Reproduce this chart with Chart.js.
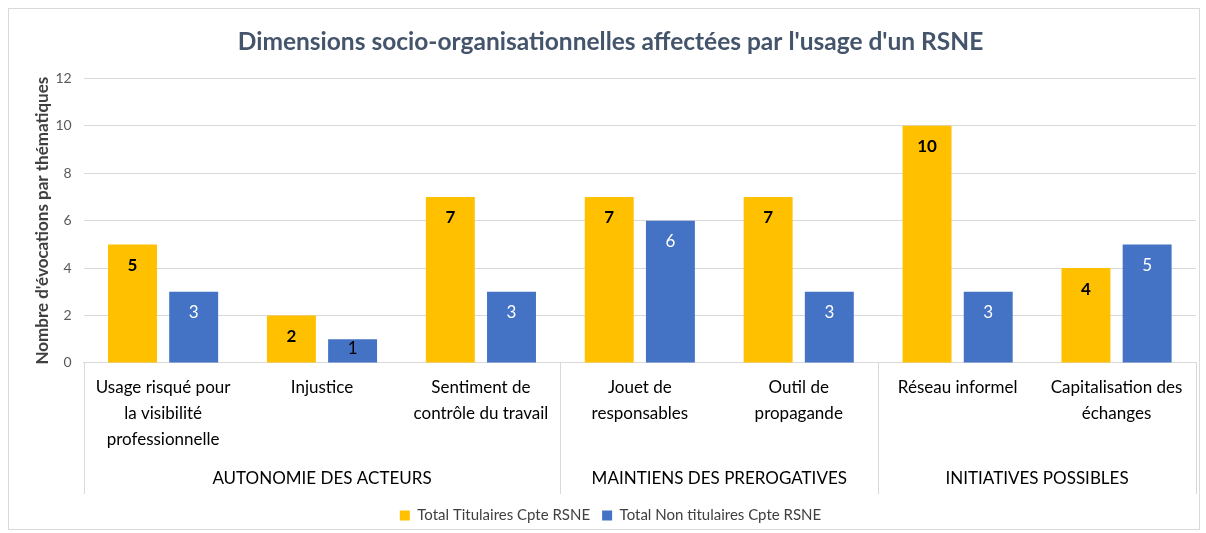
<!DOCTYPE html>
<html>
<head>
<meta charset="utf-8">
<script src="https://cdn.jsdelivr.net/npm/chart.js@4"></script>
<style>
  body { margin: 0; background: #fff; overflow: hidden; }
  #frame {
    position: absolute; left: 8px; top: 8px;
    width: 1190px; height: 520px;
    border: 1px solid #d9d9d9;
    pointer-events: none;
  }
  #wrap {
    position: absolute; left: 9px; top: 9px;
    width: 1190px; height: 524px;
  }
</style>
</head>
<body>
<div id="wrap"><canvas id="chart"></canvas></div>
<div id="frame"></div>
<script>
const categories = [
  ['Usage risqué pour', 'la visibilité', 'professionnelle'],
  'Injustice',
  ['Sentiment de', 'contrôle du travail'],
  ['Jouet de', 'responsables'],
  ['Outil de', 'propagande'],
  'Réseau informel',
  ['Capitalisation des', 'échanges']
];
const groups = ['AUTONOMIE DES ACTEURS', 'MAINTIENS DES PREROGATIVES', 'INITIATIVES POSSIBLES'];
const groupSizes = [3, 2, 2];
const titulaires = [5, 2, 7, 7, 7, 10, 4];
const nonTitulaires = [3, 1, 3, 6, 3, 3, 5];
const yTicks = [0, 2, 4, 6, 8, 10, 12];

const FONT = 'Lato, "Open Sans", sans-serif';

// group row under the category labels, with separators
const groupAxis = {
  id: 'groupAxis',
  afterDraw(chart) {
    const ctx = chart.ctx;
    const x = chart.scales.x;
    const step = x.width / categories.length;
    const top = x.top;
    const bottom = x.bottom - 2;
    ctx.save();
    ctx.strokeStyle = '#d9d9d9';
    ctx.lineWidth = 1;
    let start = 0;
    const edges = [0];
    groupSizes.forEach(n => { start += n; edges.push(start); });
    edges.forEach(i => {
      const px = Math.round(x.left + i * step) + 0.5;
      ctx.beginPath();
      ctx.moveTo(px, top);
      ctx.lineTo(px, bottom);
      ctx.stroke();
    });
    ctx.fillStyle = '#000';
    ctx.font = '17px ' + FONT;
    ctx.textAlign = 'center';
    ctx.textBaseline = 'middle';
    groups.forEach((g, k) => {
      const mid = x.left + (edges[k] + edges[k + 1]) / 2 * step;
      ctx.fillText(g, mid, bottom - 15);
    });
    ctx.restore();
  }
};

// value labels inside the bar ends
const valueLabels = {
  id: 'valueLabels',
  afterDatasetsDraw(chart) {
    const ctx = chart.ctx;
    ctx.save();
    ctx.textAlign = 'center';
    ctx.textBaseline = 'middle';
    chart.data.datasets.forEach((ds, di) => {
      chart.getDatasetMeta(di).data.forEach((bar, i) => {
        const v = ds.data[i];
        const mid = (bar.y + bar.base) / 2;
        const y = Math.min(bar.y + 21, mid - 2);
        if (di === 0) {
          ctx.font = 'bold 17px ' + FONT;
          ctx.fillStyle = '#000';
        } else {
          ctx.font = '17px ' + FONT;
          ctx.fillStyle = v < 2 ? '#000' : '#fff';
        }
        ctx.fillText(v, bar.x, y);
      });
    });
    ctx.restore();
  }
};

new Chart(document.getElementById('chart'), {
  type: 'bar',
  data: {
    labels: categories,
    datasets: [
      {
        label: 'Total Titulaires Cpte RSNE',
        data: titulaires,
        backgroundColor: '#FFC000',
        barPercentage: 0.8,
        categoryPercentage: 0.77
      },
      {
        label: 'Total Non titulaires Cpte RSNE',
        data: nonTitulaires,
        backgroundColor: '#4472C4',
        barPercentage: 0.8,
        categoryPercentage: 0.77
      }
    ]
  },
  options: {
    responsive: true,
    maintainAspectRatio: false,
    animation: false,
    layout: { padding: { left: 16, right: 3, top: 2, bottom: 0 } },
    plugins: {
      title: {
        display: true,
        text: "Dimensions socio-organisationnelles affectées par l'usage d'un RSNE",
        color: '#44546A',
        font: { family: FONT, size: 24.5, weight: 'bold' },
        padding: { top: 16, bottom: 22 }
      },
      legend: {
        position: 'bottom',
        labels: {
          color: '#404040',
          font: { family: FONT, size: 15 },
          boxWidth: 10,
          boxHeight: 10,
          padding: 12
        }
      },
      tooltip: { enabled: false }
    },
    scales: {
      x: {
        grid: { display: false, drawTicks: false },
        border: { color: '#d9d9d9' },
        ticks: {
          color: '#000',
          font: { family: FONT, size: 17, lineHeight: 1.55 },
          maxRotation: 0,
          autoSkip: false,
          padding: 11
        },
        afterFit(scale) { scale.height += 32; }
      },
      y: {
        min: 0,
        max: 12,
        afterBuildTicks(scale) { scale.ticks = yTicks.map(v => ({ value: v })); },
        afterFit(scale) { scale.width -= 14; },
        grid: { color: '#d9d9d9', drawTicks: false },
        border: { display: false },
        ticks: {
          color: '#595959',
          font: { family: FONT, size: 14 },
          padding: 12
        },
        title: {
          display: true,
          text: "Nombre d'évocations par thématiques",
          color: '#404040',
          font: { family: FONT, size: 17, weight: 'bold' },
          padding: { top: 7, bottom: 5 }
        }
      }
    }
  },
  plugins: [groupAxis, valueLabels]
});
</script>
</body>
</html>
